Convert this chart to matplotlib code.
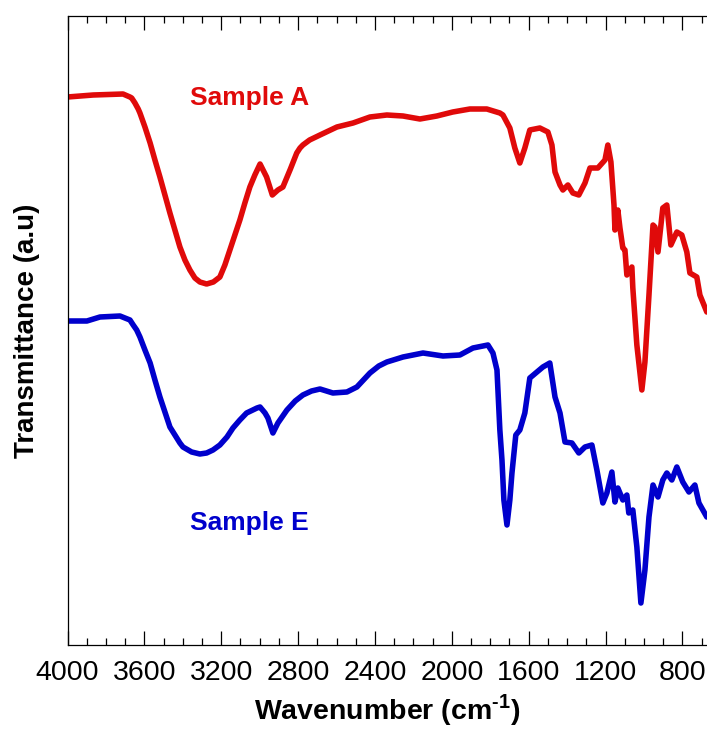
import matplotlib
matplotlib.use("Agg")
import matplotlib.pyplot as plt
from matplotlib.ticker import MultipleLocator

plt.rcParams['font.family'] = ['Liberation Sans', 'DejaVu Sans']
plt.rcParams['mathtext.fontset'] = 'custom'
plt.rcParams['mathtext.rm'] = 'Liberation Sans:bold'
plt.rcParams['mathtext.bf'] = 'Liberation Sans:bold'

# Sample A (red) – wavenumber (cm-1) and transmittance (a.u.)
wn_a = [4000, 3866, 3711, 3675, 3666, 3649, 3632, 3623, 3597, 3570, 3545, 3519, 3493, 3467,
        3441, 3415, 3389, 3363, 3337, 3311, 3276, 3241, 3207, 3181, 3155, 3129, 3103, 3077,
        3051, 3025, 2998, 2964, 2934, 2905, 2879, 2840, 2807, 2790, 2775, 2740, 2686, 2598,
        2514, 2426, 2338, 2254, 2166, 2078, 1995, 1906, 1818, 1750, 1734, 1698, 1672, 1646,
        1620, 1594, 1542, 1500, 1479, 1463, 1437, 1422, 1396, 1370, 1339, 1307, 1281, 1240,
        1203, 1188, 1172, 1156, 1151, 1136, 1125, 1110, 1099, 1089, 1063, 1058, 1037, 1011,
        995, 974, 953, 943, 927, 902, 881, 860, 829, 803, 777, 761, 725, 709, 673]
t_a = [548, 550, 551, 548, 547, 542, 536, 532, 518, 502, 485, 468, 450, 432,
       415, 398, 385, 375, 367, 363, 361, 363, 368, 380, 395, 410, 425, 442,
       458, 470, 481, 468, 450, 455, 458, 476, 492, 497, 500, 505, 510, 518,
       522, 528, 530, 529, 526, 529, 533, 536, 536, 532, 530, 517, 497, 482,
       497, 515, 517, 513, 500, 473, 460, 455, 460, 452, 450, 462, 477, 477,
       485, 500, 483, 440, 415, 435, 417, 397, 395, 370, 378, 357, 300, 255,
       283, 350, 420, 418, 393, 437, 440, 400, 413, 410, 393, 372, 368, 350, 333]

# Sample E (blue)
wn_e = [4000, 3899, 3831, 3727, 3675, 3658, 3640, 3623, 3597, 3570, 3545, 3519, 3493, 3467,
        3441, 3415, 3399, 3354, 3311, 3276, 3243, 3207, 3170, 3139, 3103, 3068, 3014, 2998,
        2972, 2957, 2931, 2905, 2858, 2815, 2775, 2730, 2686, 2619, 2546, 2494, 2460, 2426,
        2380, 2338, 2254, 2150, 2046, 1958, 1890, 1812, 1786, 1765, 1750, 1739, 1729, 1713,
        1698, 1687, 1667, 1646, 1620, 1594, 1557, 1526, 1490, 1463, 1437, 1411, 1375, 1339,
        1307, 1271, 1245, 1214, 1193, 1167, 1151, 1136, 1110, 1089, 1079, 1058, 1037, 1016,
        995, 974, 953, 927, 902, 881, 855, 829, 798, 766, 735, 714, 673]
t_e = [324, 324, 328, 329, 325, 320, 315, 308, 295, 282, 265, 248, 233, 218,
       210, 202, 198, 193, 191, 192, 195, 200, 208, 217, 225, 232, 237, 238,
       232, 227, 212, 222, 235, 244, 250, 254, 256, 252, 253, 258, 265, 272,
       279, 283, 288, 292, 289, 290, 297, 300, 292, 275, 215, 185, 145, 120,
       145, 172, 210, 215, 232, 267, 273, 278, 282, 248, 232, 203, 202, 192,
       198, 200, 175, 142, 152, 173, 143, 157, 145, 150, 132, 135, 98, 42,
       75, 128, 160, 148, 165, 172, 165, 178, 163, 153, 160, 142, 128]

x_ticks = [4000, 3600, 3200, 2800, 2400, 2000, 1600, 1200, 800]

fig = plt.figure(figsize=(7.07, 7.29), dpi=100)
ax = fig.add_axes([67.5 / 707, 84 / 729, 1 - 67.5 / 707, (713 - 84) / 729])

ax.plot(wn_a, t_a, color='#E00A0A', lw=4.0, solid_joinstyle='round', solid_capstyle='round')
ax.plot(wn_e, t_e, color='#0000CC', lw=4.0, solid_joinstyle='round', solid_capstyle='round')

ax.set_xlim(4000, 672)
ax.set_ylim(0, 629)
ax.set_xticks(x_ticks)
ax.xaxis.set_minor_locator(MultipleLocator(100))
ax.set_yticks([])
ax.tick_params(axis='x', which='major', direction='in', length=10, width=0.9,
               top=True, labelsize=20.5, pad=11)
ax.tick_params(axis='x', which='minor', direction='in', length=5, width=0.9, top=True)
ax.spines['right'].set_visible(False)
for s in ['left', 'top', 'bottom']:
    ax.spines[s].set_linewidth(0.9)

ax.set_xlabel('Wavenumber (cm$^{\\text{-}1}$)', fontsize=20.5, fontweight='bold', labelpad=4)
ax.set_ylabel('Transmittance (a.u)', fontsize=20, fontweight='bold', labelpad=20)

ax.text(3363, 547, 'Sample A', color='#E00A0A', fontsize=19, fontweight='bold',
        ha='left', va='center')
ax.text(3363, 122, 'Sample E', color='#0000CC', fontsize=19, fontweight='bold',
        ha='left', va='center')

fig.savefig('out.png', dpi=100)
